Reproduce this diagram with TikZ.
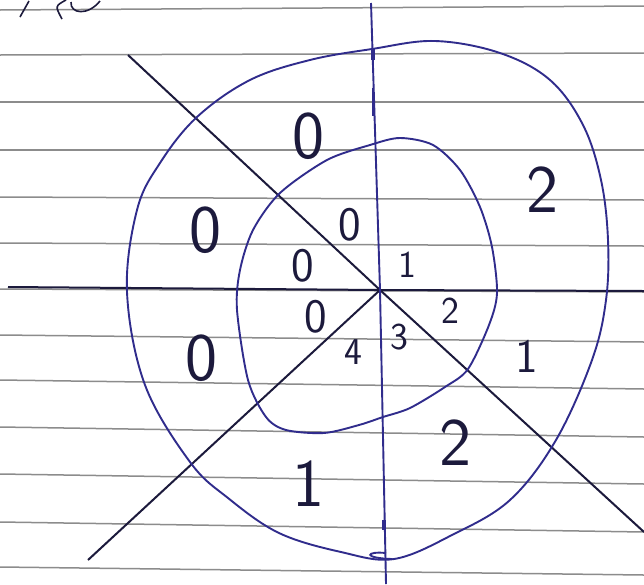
\documentclass[tikz,border=0pt]{standalone}
\usepackage{tikz}
\usepackage{xcolor}
\usetikzlibrary{calc}
\definecolor{inkblue}{RGB}{48,44,140}
\definecolor{inkdark}{RGB}{28,26,60}
\definecolor{rulegray}{RGB}{140,140,140}

\begin{document}
\begin{tikzpicture}[
    x=1pt, y=-1pt,
    rule/.style={draw=rulegray, line width=1.5pt},
    ring/.style={draw=inkblue, line width=1.9pt},
    cut/.style={draw=inkdark, line width=2pt},
    bigdigit/.style={text=inkdark, inner sep=0pt, font=\sffamily\fontsize{68}{68}\selectfont},
    middigit/.style={text=inkdark, inner sep=0pt, font=\sffamily\fontsize{48}{48}\selectfont},
    smalldigit/.style={text=inkdark, inner sep=0pt, font=\sffamily\fontsize{38}{38}\selectfont}
  ]
    \useasboundingbox[fill=white] (0,0) rectangle (644,584);

    % ruled paper
    \foreach \yl/\yr in {10/6, 55/53, 102/102, 150/150, 197/200, 243/246,
                         289/292, 335/342, 380/389, 427/437, 474/484, 522/532, 567/575}
      \draw[rule] (0,\yl) -- (644,\yr);

    % scribble at the top left
    \draw[inkdark, line width=1.6pt] (20,17) -- (29,1);
    \draw[inkdark, line width=1.6pt] (66,0) .. controls (55,6) .. (62,19);
    \draw[inkdark, line width=1.6pt] (71,2) .. controls (70,14) and (88,16) .. (100,1);

    % axes and cuts
    \coordinate (O)  at (380,290);
    \coordinate (n)  at (371,3);
    \coordinate (s)  at (386,584);
    \coordinate (w)  at (8,287);
    \coordinate (e)  at (644,291);
    \coordinate (nw) at (128,55);
    \coordinate (se) at (644,532);
    \coordinate (sw) at (88,560);

    \draw[cut] (w) -- (O) -- (e);
    \draw[cut] (nw) -- (O) -- (se);
    \draw[cut] (O) -- (sw);
    \draw[ring] (n) -- (O) -- (s);
    \draw[ring, line width=3.4pt] (373,48) -- (373,60);
    \draw[ring, line width=2.8pt] (373,88) -- (373,116);
    \draw[ring, line width=3.6pt] (384,520) -- (384,530);

    % outer region
    \draw[ring] plot[smooth cycle, tension=0.6] coordinates {
      (127,292) (137,210) (160,163) (197,117) (250,80) (310,60) (372,49)
      (435,41) (500,53) (550,80) (583,125) (601,180) (608,240) (606,300)
      (592,360) (556,440) (510,500) (452,535) (394,559) (341,552) (279,533)
      (228,498) (190,462) (145,385)};
    \draw[ring] (386,553) .. controls (366,551) and (362,558) .. (392,559);

    % inner region
    \draw[ring] plot[smooth cycle, tension=0.5] coordinates {
      (400,138) (433,145) (460,170) (480,207) (492,247) (497,293) (489,325)
      (468,369) (445,387) (410,408) (383,417) (359,425) (324,433) (286,430)
      (266,417) (248,380) (237,310) (240,270) (253,230) (280,193) (327,160)
      (370,145)};

    % labels
    \node[bigdigit]   (outA)   at (308,136) {0};
    \node[bigdigit]   (outB)   at (205,230) {0};
    \node[bigdigit]   (outC)   at (542,190) {2};
    \node[bigdigit]   (outD)   at (201,358) {0};
    \node[middigit]   (outE)   at (527,356) {1};
    \node[bigdigit]   (outF)   at (455,443) {2};
    \node[bigdigit]   (outG)   at (308,484) {1};
    \node[middigit]   (inA)    at (350,225) {0};
    \node[middigit]   (inB)    at (303,266) {0};
    \node[smalldigit] (inC)    at (407,265) {1};
    \node[middigit]   (inD)    at (316,317) {0};
    \node[smalldigit] (inE)    at (450,311) {2};
    \node[smalldigit] (inF)    at (399,337) {3};
    \node[smalldigit] (inG)    at (353,352) {4};
  \end{tikzpicture}
\end{document}
